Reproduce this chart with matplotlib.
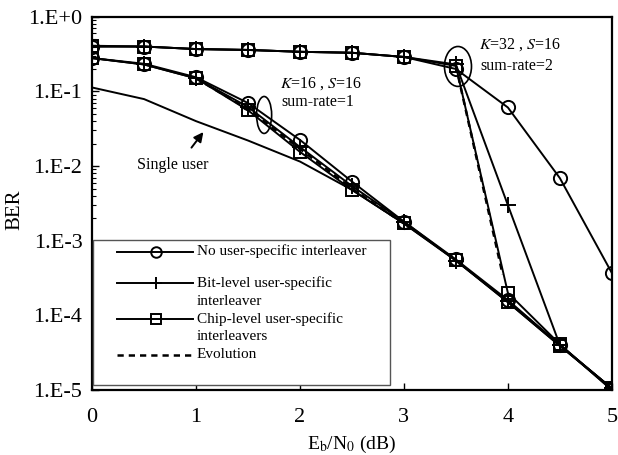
import matplotlib
matplotlib.use('Agg')
import matplotlib.pyplot as plt
from matplotlib.patches import Ellipse, Rectangle
from matplotlib.lines import Line2D
from matplotlib.ticker import FixedLocator, LogLocator, NullFormatter

plt.rcParams['font.family'] = ['Liberation Serif', 'DejaVu Serif']
plt.rcParams['mathtext.fontset'] = 'stix'

# Eb/N0 grid (dB)
snr = [0, 0.5, 1, 1.5, 2, 2.5, 3, 3.5, 4, 4.5, 5]

# K=16, S=16 (sum-rate 1)
no_16 = [0.28, 0.235, 0.155, 0.070, 0.0224, 0.0062, 0.0018, 5.6e-4, 1.6e-4, 4.0e-5, 1.05e-5]
bit_16 = [0.28, 0.23, 0.15, 0.062, 0.018, 0.0054, 0.0018, 5.4e-4, 1.55e-4, 4.0e-5, 1.05e-5]
chip_16 = [0.28, 0.23, 0.15, 0.056, 0.0155, 0.0048, 0.0017, 5.5e-4, 1.5e-4, 3.9e-5, 1.05e-5]
evo16_snr = [1, 1.5, 2, 2.5, 3]
evo16_ber = [0.15, 0.058, 0.017, 0.005, 0.0017]

# K=32, S=16 (sum-rate 2)
no_32 = [0.40, 0.40, 0.37, 0.36, 0.34, 0.33, 0.29, 0.20, 0.061, 0.0069, 3.7e-4]
bit_32 = [0.40, 0.40, 0.37, 0.36, 0.34, 0.33, 0.29, 0.23, 0.0030, 4.0e-5, 1.0e-5]
chip_32 = [0.41, 0.40, 0.37, 0.36, 0.34, 0.33, 0.29, 0.22, 2.0e-4, 4.1e-5, 1.0e-5]
evo32_snr = [3.5, 3.95]
evo32_ber = [0.22, 3.5e-4]

# single user bound
single = [0.113, 0.079, 0.040, 0.022, 0.0115, 0.0048, 0.0017, 5.4e-4, 1.5e-4, 3.9e-5, 1.05e-5]

y_ticks = [1, 1e-1, 1e-2, 1e-3, 1e-4, 1e-5]
y_labels = ['1.E+0', '1.E-1', '1.E-2', '1.E-3', '1.E-4', '1.E-5']
x_ticks = [0, 1, 2, 3, 4, 5]

fig = plt.figure(figsize=(6.18, 4.55), dpi=100)
ax = fig.add_axes([0.149, 0.143, 0.841, 0.820])

lw = 1.4
circ = dict(marker='o', markersize=9.5, markerfacecolor='none', markeredgewidth=1.4)
plus = dict(marker='+', markersize=11, markeredgewidth=1.4)
sq = dict(marker='s', markersize=8.5, markerfacecolor='none', markeredgewidth=1.4)

ax.plot(snr, single, color='black', lw=lw)
for ber_no, ber_bit, ber_chip in [(no_16, bit_16, chip_16), (no_32, bit_32, chip_32)]:
    ax.plot(snr, ber_no, color='black', lw=lw, **circ)
    ax.plot(snr, ber_bit, color='black', lw=lw, **plus)
    ax.plot(snr, ber_chip, color='black', lw=lw, **sq)
ax.plot(evo16_snr, evo16_ber, color='black', lw=1.8, ls=(0, (2.5, 2)))
ax.plot(evo32_snr, evo32_ber, color='black', lw=1.8, ls=(0, (2.5, 2)))

ax.set_yscale('log')
ax.set_xlim(0, 5)
ax.set_ylim(1e-5, 1)
ax.set_xticks(x_ticks)
ax.set_xticklabels([str(t) for t in x_ticks])
ax.yaxis.set_major_locator(FixedLocator(y_ticks))
ax.set_yticklabels(y_labels)
ax.yaxis.set_minor_locator(LogLocator(base=10, subs=range(2, 10), numticks=20))
ax.yaxis.set_minor_formatter(NullFormatter())
ax.tick_params(axis='both', which='major', direction='in', length=5, width=1.0,
               labelsize=16)
ax.tick_params(axis='x', which='major', pad=13)
ax.tick_params(axis='y', which='major', pad=7)
ax.tick_params(axis='y', which='minor', direction='in', length=3, width=0.8)
ax.tick_params(axis='x', which='minor', bottom=False)
for s in ax.spines.values():
    s.set_linewidth(1.6)

ax.set_xlabel(r'E$_\mathrm{b}$/N$_0$ (dB)', fontsize=14, va='center')
ax.xaxis.set_label_coords(0.5, -0.145)
ax.set_ylabel('BER', fontsize=15, va='center')
ax.yaxis.set_label_coords(-0.148, 0.483)

# annotations
ax.add_patch(Ellipse((0.331, 0.737), 0.029, 0.099, transform=ax.transAxes,
                     fill=False, lw=1.2, color='black'))
ax.add_patch(Ellipse((0.704, 0.867), 0.052, 0.107, transform=ax.transAxes,
                     fill=False, lw=1.2, color='black'))
ax.text(2.2, 0.126, r'$K$=16 , $S$=16', ha='center', va='center', fontsize=11.5)
ax.text(2.17, 0.0726, 'sum-rate=1', ha='center', va='center', fontsize=11.5)
ax.text(4.12, 0.42, r'$K$=32 , $S$=16', ha='center', va='center', fontsize=11.5)
ax.text(4.09, 0.22, 'sum-rate=2', ha='center', va='center', fontsize=11.5)
ax.text(0.78, 0.0104, 'Single user', ha='center', va='center', fontsize=11.5)
ax.annotate('', xy=(1.087, 0.0306), xytext=(0.94, 0.0165),
            arrowprops=dict(arrowstyle='-|>', color='black', lw=1.4,
                            mutation_scale=14))

# legend drawn by hand so the handle sits on the first text line
ax.add_patch(Rectangle((0.002, 0.013), 0.571, 0.389, transform=ax.transAxes,
                       facecolor='white', edgecolor='#555555', lw=1.0, zorder=5))
entries = [
    (circ, '-', ['No user-specific interleaver'], 0.371),
    (plus, '-', ['Bit-level user-specific', 'interleaver'], 0.286),
    (sq, '-', ['Chip-level user-specific', 'interleavers'], 0.190),
    (None, (0, (2.5, 2)), ['Evolution'], 0.094),
]
for mk, ls, lines, yy in entries:
    ax.add_line(Line2D([0.0475, 0.195], [yy, yy], transform=ax.transAxes,
                       color='black', lw=1.8 if mk is None else lw, ls=ls, zorder=6))
    if mk is not None:
        ax.add_line(Line2D([0.1225], [yy], transform=ax.transAxes, color='black',
                           zorder=6, **{**mk, 'markersize': mk['markersize'] * 0.8}))
    for i, t in enumerate(lines):
        ax.text(0.201, yy - i * 0.048, t, transform=ax.transAxes, ha='left',
                va='center', fontsize=11, zorder=7)

fig.savefig('out.png', dpi=100)
